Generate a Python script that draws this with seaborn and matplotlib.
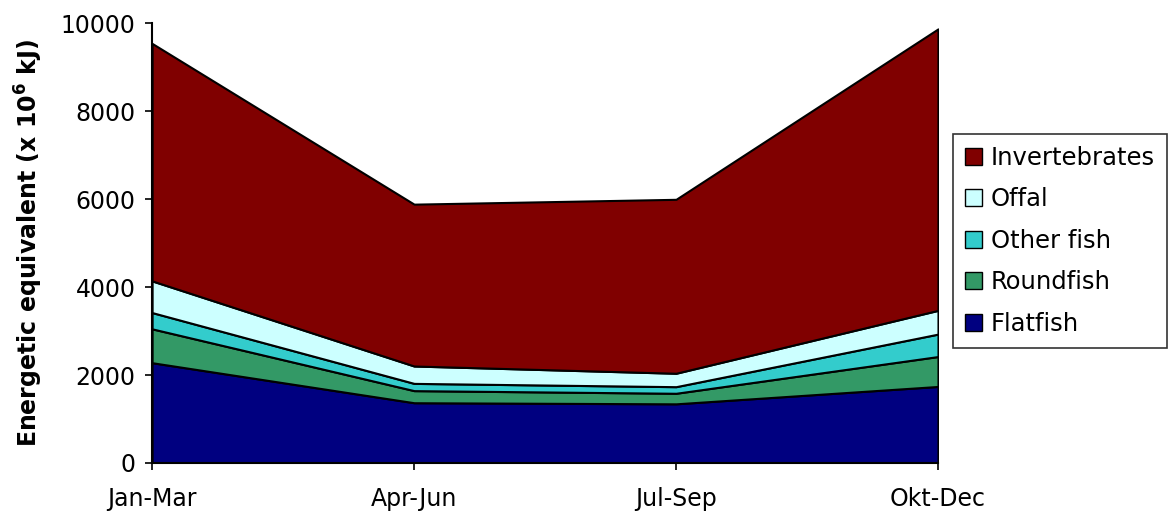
import numpy as np
import pandas as pd
import seaborn as sns
from matplotlib import pyplot as plt
from matplotlib.patches import Patch

quarters = ['Jan-Mar', 'Apr-Jun', 'Jul-Sep', 'Okt-Dec']
flatfish = [2280, 1370, 1345, 1740]
roundfish = [770, 275, 240, 680]
other_fish = [370, 165, 150, 510]
offal = [720, 395, 305, 540]
invertebrates = [5400, 3680, 3955, 6400]

series_names = ['Flatfish', 'Roundfish', 'Other fish', 'Offal', 'Invertebrates']
series_colors = ['#000080', '#339966', '#33CCCC', '#CCFFFF', '#800000']

df = pd.DataFrame({
    'Flatfish': flatfish,
    'Roundfish': roundfish,
    'Other fish': other_fish,
    'Offal': offal,
    'Invertebrates': invertebrates,
}, index=quarters)

sns.set_style('white')
plt.rcParams['font.family'] = ['DejaVu Sans']
plt.rcParams.update({'text.color': 'black', 'axes.labelcolor': 'black',
                     'xtick.color': 'black', 'ytick.color': 'black'})

fig = plt.figure(figsize=(11.7, 5.15), dpi=100)
ax = fig.add_axes([0.13, 0.101, 0.6717, 0.854])

x = np.arange(len(quarters))
ax.stackplot(x, [df[c].values for c in series_names], colors=series_colors,
             edgecolor='black', linewidth=1.5)

ax.set_xlim(0, len(quarters) - 1)
ax.set_ylim(0, 10000)
ax.set_yticks(range(0, 10001, 2000))
ax.set_xticks(x)
ax.set_xticklabels(quarters)
ax.tick_params(axis='both', labelsize=17, length=5, width=1.2, color='black',
               direction='out', left=True, bottom=True)
ax.tick_params(axis='x', pad=12)
ax.tick_params(axis='y', pad=7)

for side in ['top', 'right']:
    ax.spines[side].set_visible(False)
for side in ['left', 'bottom']:
    ax.spines[side].set_color('black')
    ax.spines[side].set_linewidth(1.5)

ax.set_ylabel(r'Energetic equivalent (x 10$^{\mathbf{6}}$ kJ)', fontsize=17,
              fontweight='bold', labelpad=11)

handles = [Patch(facecolor=c, edgecolor='black', linewidth=1, label=n)
           for n, c in zip(series_names, series_colors)][::-1]
leg = ax.legend(handles=handles, loc='center left', bbox_to_anchor=(1.019, 0.505),
                fontsize=17.5, frameon=True, fancybox=False, borderpad=0.5,
                handlelength=0.7, handleheight=0.7, handletextpad=0.35,
                labelspacing=0.72, borderaxespad=0)
leg.get_frame().set_edgecolor('black')
leg.get_frame().set_linewidth(1.2)

fig.savefig('out.png', dpi=100)
